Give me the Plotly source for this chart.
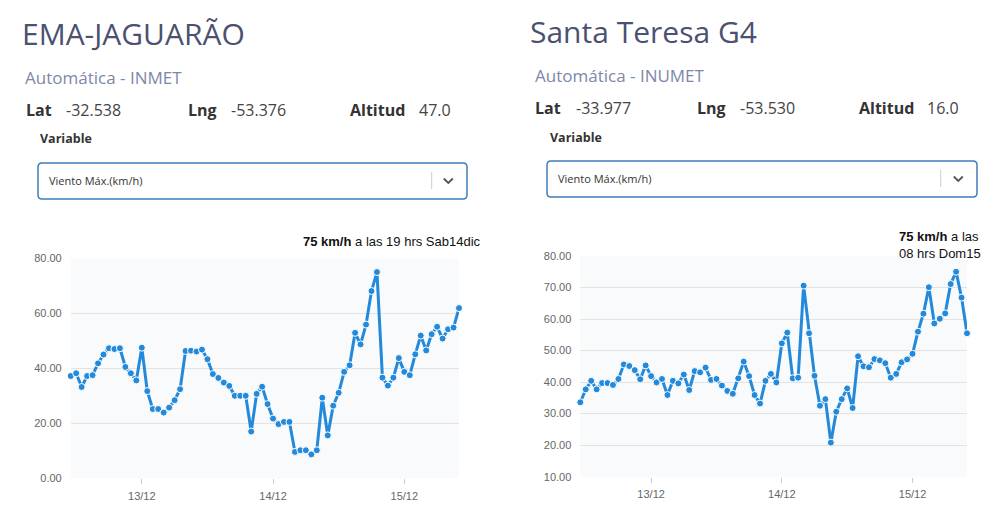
import pandas as pd
import plotly.graph_objects as go

# horas de las series (12/12/2019 11:00 -> 15/12/2019 10:00)
horas = pd.date_range("2019-12-12 11:00", periods=72, freq="h")

# Viento Máx.(km/h) EMA-JAGUARÃO
jaguarao = [37.2, 38.2, 33.2, 37.2, 37.5, 41.8, 45.0, 47.3, 47.0, 47.3,
            40.5, 38.2, 35.6, 47.5, 31.7, 25.2, 25.2, 23.9, 25.7, 28.4,
            32.4, 46.3, 46.4, 46.1, 46.8, 43.3, 37.9, 36.5, 34.8, 33.6,
            30.0, 30.0, 30.0, 17.0, 30.7, 33.3, 27.0, 21.7, 19.7, 20.5,
            20.5, 9.6, 10.2, 10.2, 8.7, 10.2, 29.3, 15.6, 26.4, 31.1,
            38.7, 41.1, 52.9, 48.7, 55.9, 68.1, 75.0, 36.6, 33.7, 36.6,
            43.7, 38.7, 37.5, 45.1, 51.9, 46.5, 52.4, 55.1, 50.8, 54.2,
            54.8, 61.9]

# Viento Máx.(km/h) Santa Teresa G4
santa_teresa = [33.6, 37.7, 40.4, 37.7, 39.7, 39.7, 39.1, 41.0, 45.6, 45.1,
                43.8, 40.9, 45.3, 41.9, 39.9, 41.0, 35.9, 40.4, 39.6, 42.4,
                37.5, 43.5, 43.1, 44.6, 40.7, 41.0, 38.9, 37.2, 36.3, 41.2,
                46.5, 41.9, 35.9, 33.2, 40.4, 42.6, 39.9, 52.3, 55.7, 41.2,
                41.4, 70.6, 55.5, 42.0, 32.5, 34.6, 20.8, 30.6, 34.6, 38.0,
                31.8, 48.2, 45.0, 44.7, 47.3, 46.9, 46.0, 41.4, 42.6, 46.3,
                47.2, 49.0, 56.0, 61.7, 70.1, 58.6, 60.1, 61.8, 71.1, 75.0,
                66.8, 55.5]

estaciones = ["EMA-JAGUARÃO", "Santa Teresa G4"]
fuentes = ["Automática - INMET", "Automática - INUMET"]
lats = ["-32.538", "-33.977"]
lngs = ["-53.376", "-53.530"]
altitudes = ["47.0", "16.0"]
maximos = ["<b>75 km/h</b> a las 19 hrs Sab14dic", "<b>75 km/h</b> a las<br>08 hrs Dom15"]

W, H = 1000, 516
OFF = 8  # margen del body de la página
AZUL = "#2389da"


def px(x):
    return (x - OFF) / W


def py(y):
    return 1 - (y - OFF) / H


fig = go.Figure()

for i, serie in enumerate([jaguarao, santa_teresa]):
    fig.add_trace(go.Scatter(
        x=horas, y=serie, mode="lines+markers",
        line=dict(color=AZUL, width=3),
        marker=dict(color=AZUL, size=7, line=dict(color="white", width=1)),
        xaxis="x" if i == 0 else "x2", yaxis="y" if i == 0 else "y2",
        cliponaxis=False, showlegend=False,
    ))

ejex = dict(type="date", tickformat="%d/%m", dtick=86400000, tick0="2019-12-13",
            ticks="outside", ticklen=5, tickcolor="#cccccc", showgrid=False,
            showline=False, zeroline=False, ticklabelstandoff=2, automargin=False,
            tickfont=dict(family="Liberation Sans", size=11, color="#666666"),
            range=[horas[0], horas[-1]])
ejey = dict(tickformat=".2f", showgrid=True, gridcolor="#e3e3e3", gridwidth=1,
            zeroline=False, showline=False, ticks="", ticklabelstandoff=8,
            automargin=False,
            tickfont=dict(family="Liberation Sans", size=11, color="#666666"))

fig.update_layout(
    width=W, height=H, margin=dict(l=0, r=0, t=0, b=0, autoexpand=False),
    paper_bgcolor="white", plot_bgcolor="white",
    xaxis=dict(ejex, domain=[px(70.7), px(459)]),
    yaxis=dict(ejey, domain=[py(478.3), py(258.3)], range=[0, 80], dtick=20),
    xaxis2=dict(ejex, domain=[px(580.3), px(967)], anchor="y2"),
    yaxis2=dict(ejey, domain=[py(476.7), py(256)], range=[10, 80], dtick=10, anchor="x2"),
)

# fondo gris claro del área del gráfico
for x0, x1, y0, y1 in [(70.7, 459, 258.3, 478.3), (580.3, 967, 256, 476.7)]:
    fig.add_shape(type="rect", xref="paper", yref="paper", layer="below",
                  x0=px(x0), x1=px(x1), y0=py(y1), y1=py(y0),
                  fillcolor="#f9fafb", line_width=0)

# cabeceras de cada panel
paneles = [
    dict(tx=20, ty=34, sx=23, sy=77, ry=110, cols=[24, 64, 186, 229, 348, 417],
         vx=38, vy=138, box=(38, 163, 467, 199), sep=431.7, chev=448.3),
    dict(tx=528, ty=32, sx=533, sy=75, ry=108, cols=[533, 574, 695, 738, 857, 925],
         vx=548, vy=137, box=(547, 161, 977, 197), sep=940.7, chev=958.3),
]

for i, p in enumerate(paneles):
    def texto(x, y, t, size, color, family="Open Sans", bold=False):
        fig.add_annotation(xref="paper", yref="paper", x=px(x), y=py(y),
                           xanchor="left", yanchor="middle", showarrow=False,
                           text=f"<b>{t}</b>" if bold else t,
                           font=dict(family=family, size=size, color=color))

    texto(p["tx"], p["ty"], estaciones[i], 30, "#4b5170")
    texto(p["sx"], p["sy"], fuentes[i], 17, "#7e87a8")
    c = p["cols"]
    texto(c[0], p["ry"], "Lat", 16, "#333333", bold=True)
    texto(c[1], p["ry"], lats[i], 16, "#444444")
    texto(c[2], p["ry"], "Lng", 16, "#333333", bold=True)
    texto(c[3], p["ry"], lngs[i], 16, "#444444")
    texto(c[4], p["ry"], "Altitud", 16, "#333333", bold=True)
    texto(c[5], p["ry"], altitudes[i], 16, "#444444")
    texto(p["vx"], p["vy"], "Variable", 12.5, "#333333", bold=True)

    x0, y0, x1, y1 = p["box"]
    r = 4
    camino = (f"M {px(x0 + r)} {py(y0)} L {px(x1 - r)} {py(y0)} "
              f"Q {px(x1)} {py(y0)} {px(x1)} {py(y0 + r)} L {px(x1)} {py(y1 - r)} "
              f"Q {px(x1)} {py(y1)} {px(x1 - r)} {py(y1)} L {px(x0 + r)} {py(y1)} "
              f"Q {px(x0)} {py(y1)} {px(x0)} {py(y1 - r)} L {px(x0)} {py(y0 + r)} "
              f"Q {px(x0)} {py(y0)} {px(x0 + r)} {py(y0)} Z")
    fig.add_shape(type="path", xref="paper", yref="paper", path=camino,
                  line=dict(color="#3f7cba", width=1.5), fillcolor="white")
    cy = (y0 + y1) / 2
    texto(x0 + 9, cy, "Viento Máx.(km/h)", 11, "#333333")
    fig.add_shape(type="line", xref="paper", yref="paper",
                  x0=px(p["sep"]), x1=px(p["sep"]), y0=py(cy - 9), y1=py(cy + 8),
                  line=dict(color="#cccccc", width=1))
    ch = p["chev"]
    fig.add_shape(type="path", xref="paper", yref="paper",
                  path=(f"M {px(ch - 4.5)} {py(cy - 2.5)} L {px(ch)} {py(cy + 2)} "
                        f"L {px(ch + 4.5)} {py(cy - 2.5)}"),
                  line=dict(color="#555555", width=1.8))

# máximo de cada serie
fig.add_annotation(xref="paper", yref="paper", x=px(483), y=py(242),
                   xanchor="right", yanchor="middle", showarrow=False, text=maximos[0],
                   font=dict(family="Liberation Sans", size=13, color="#111111"))
fig.add_annotation(xref="paper", yref="paper", x=px(897), y=py(245.5),
                   xanchor="left", yanchor="middle", showarrow=False, align="left",
                   text=maximos[1],
                   font=dict(family="Liberation Sans", size=13, color="#111111"))

fig.write_html("out.html")
